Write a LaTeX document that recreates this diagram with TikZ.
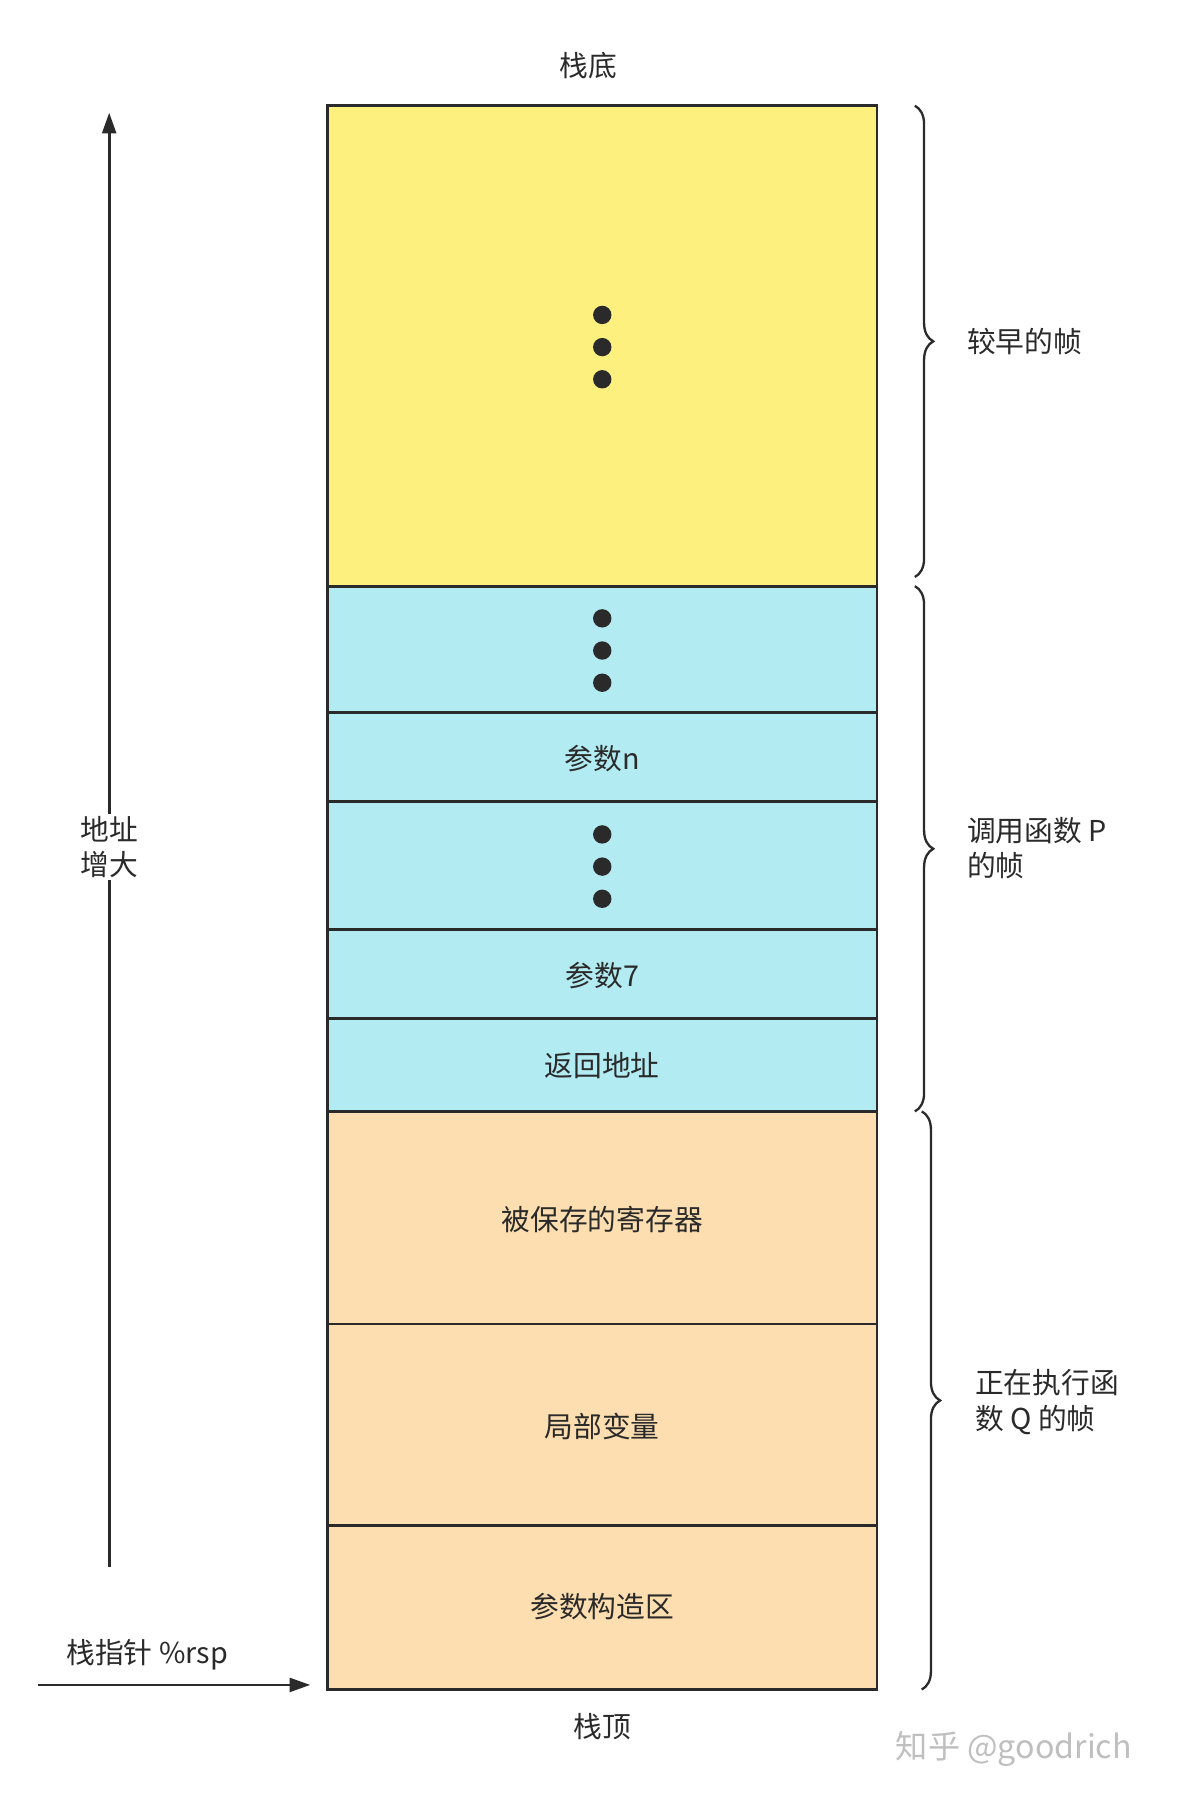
\documentclass[tikz,border=0pt]{standalone}
\usepackage{fontspec}
\setmainfont{Noto Sans CJK SC}
\usetikzlibrary{decorations.pathreplacing,arrows.meta}
\definecolor{cyel}{HTML}{FEF07F}
\definecolor{ccyan}{HTML}{B3EBF2}
\definecolor{corg}{HTML}{FDDEB0}
\definecolor{cline}{HTML}{2A2A2A}
\tikzset{
 cell/.style={draw=cline,line width=2.5pt},
 lbl/.style={font=\fontsize{25}{31}\selectfont,text=cline},
 dot/.style={circle,fill=cline,inner sep=0pt,minimum size=16pt},
 brc/.style={decorate,decoration={brace,amplitude=16pt},draw=cline,line width=2pt},
 arr/.style={draw=cline,line width=2.5pt,-{Triangle[length=18pt,width=12pt]}}
}
\begin{document}
\begin{tikzpicture}[x=1pt,y=-1pt]
\useasboundingbox (0,0) rectangle (1033,1567);
\fill[white] (0,0) rectangle (1033,1567);
\filldraw[cell,fill=cyel] (285,92) rectangle (763,510);
\filldraw[cell,fill=ccyan] (285,510) rectangle (763,620);
\filldraw[cell,fill=ccyan] (285,620) rectangle (763,697);
\filldraw[cell,fill=ccyan] (285,697) rectangle (763,809);
\filldraw[cell,fill=ccyan] (285,809) rectangle (763,886);
\filldraw[cell,fill=ccyan] (285,886) rectangle (763,967);
\filldraw[cell,fill=corg] (285,967) rectangle (763,1152);
\filldraw[cell,fill=corg] (285,1152) rectangle (763,1327);
\filldraw[cell,fill=corg] (285,1327) rectangle (763,1470);
\foreach \y in {274,302,330,538,566,594,726,754,782} \node[dot] at (524,\y) {};
\node[lbl] (pn) at (524,660) {参数n};
\node[lbl] (p7) at (524,849) {参数7};
\node[lbl] (ra) at (524,927) {返回地址};
\node[lbl] (sr) at (524,1061) {被保存的寄存器};
\node[lbl] (lv) at (524,1241) {局部变量};
\node[lbl] (ac) at (524,1398) {参数构造区};
\node[lbl] (bot) at (512,57) {栈底};
\node[lbl] (top) at (524,1502) {栈顶};
\coordinate (a1) at (95,1363);
\coordinate (a2) at (95,98);
\draw[arr] (a1) -- (a2);
\node[lbl,fill=white,align=left,inner sep=2pt] (addr) at (95,737) {地址\\增大};
\node[lbl] (sp) at (128,1440) {栈指针 \%rsp};
\coordinate (s1) at (33,1466);
\coordinate (s2) at (270,1466);
\draw[arr] (s1) -- (s2);
\draw[brc] (796,92) -- (796,502);
\draw[brc] (796,510) -- (796,967);
\draw[brc] (802,967) -- (802,1470);
\node[lbl,anchor=west] (b1) at (838,297) {较早的帧};
\node[lbl,anchor=west,align=left] (b2) at (838,738) {调用函数 P\\的帧};
\node[lbl,anchor=west,align=left] (b3) at (845,1220) {正在执行函\\数 Q 的帧};
\node[lbl,text=gray!50,anchor=west,font=\fontsize{28}{34}\selectfont] (wm) at (776,1522) {知乎 @goodrich};
\end{tikzpicture}
\end{document}
